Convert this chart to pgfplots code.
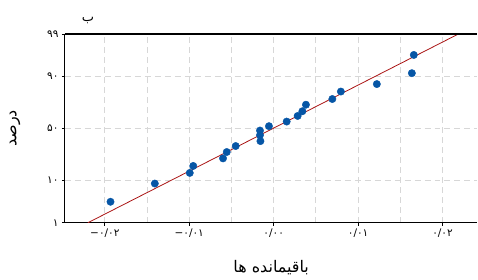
\documentclass[border=0pt]{standalone}
\usepackage{pgfplots}
\pgfplotsset{compat=1.18}
\usepackage{fontspec}
\setmainfont{DejaVu Sans}
\newfontfamily\arabicfont[Script=Arabic]{DejaVu Sans}
\newfontfamily\digitfont{DejaVu Sans}
\TeXXeTstate=1
\definecolor{ptblue}{RGB}{6,86,166}
\definecolor{fitred}{RGB}{170,20,20}
\definecolor{gridgray}{RGB}{215,215,215}
\begin{document}
\begin{tikzpicture}
\begin{axis}[
  scale only axis,
  width=413pt, height=189pt,
  xmin=-0.02473, xmax=0.02414,
  ymin=-2.326, ymax=2.326,
  scaled ticks=false,
  axis x line*=box, axis y line*=left,
  x axis line style={-, line width=1.1pt},
  y axis line style={-, line width=1.1pt},
  xtick pos=bottom, ytick pos=left,
  tick align=outside,
  major tick length=3pt,
  minor tick length=0pt,
  tick style={black, line width=0.8pt},
  xtick={-0.02,-0.01,0,0.01,0.02},
  xticklabels={\beginL−۰/۰۲\endL,\beginL−۰/۰۱\endL,۰/۰۰,۰/۰۱,۰/۰۲},
  minor xtick={-0.015,-0.005,0.005,0.015},
  ytick={-2.326,-1.2816,0,1.2816,2.326},
  yticklabels={۱,۱۰,۵۰,۹۰,۹۹},
  ticklabel style={font=\digitfont\fontsize{10.5}{12}\selectfont},
  grid=both,
  major grid style={gridgray, dash pattern=on 6pt off 4pt, line width=0.9pt},
  minor grid style={gridgray, dash pattern=on 6pt off 4pt, line width=0.9pt},
  xlabel={\arabicfont\beginR باقیمانده ها\endR},
  xlabel style={at={(axis description cs:0.5,-0.238)}, anchor=center, font=\fontsize{16}{18}\selectfont},
  ylabel={\arabicfont\beginR درصد\endR},
  ylabel style={at={(axis description cs:-0.121,0.5)}, anchor=center, font=\fontsize{16}{18}\selectfont},
  title={\arabicfont\beginR ب\endR},
  title style={at={(axis description cs:0.056,1.04)}, anchor=center, font=\fontsize{13}{15}\selectfont},
  clip=true,
]
\addplot[fitred, line width=0.8pt] coordinates {(-0.02201,-2.326) (0.02189,2.326)};
\addplot[only marks, mark=*, mark size=3.7pt, mark options={fill=ptblue, draw=ptblue}] coordinates {
(-0.01933,-1.809)
(-0.01408,-1.360)
(-0.00994,-1.098)
(-0.00953,-0.926)
(-0.00600,-0.740)
(-0.00556,-0.583)
(-0.00450,-0.436)
(-0.00157,-0.314)
(-0.00162,-0.167)
(-0.00162,-0.054)
(-0.00056,0.054)
(0.00154,0.167)
(0.00284,0.306)
(0.00340,0.422)
(0.00382,0.583)
(0.00695,0.723)
(0.00796,0.907)
(0.01222,1.091)
(0.01637,1.360)
(0.01660,1.809)
};
\draw[line width=1.1pt] (rel axis cs:0,1) -- (rel axis cs:1,1);
\end{axis}
\path ([shift={(-65pt,-57pt)}]current axis.south west) rectangle ([shift={(0pt,34pt)}]current axis.north east);
\end{tikzpicture}
\end{document}
